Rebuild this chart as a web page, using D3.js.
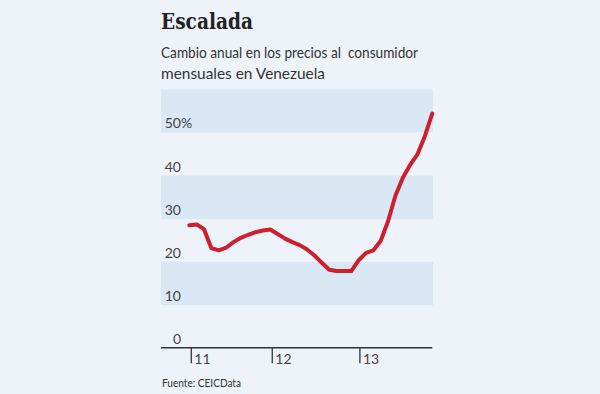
<!DOCTYPE html>
<html><head><meta charset="utf-8">
<script src="https://cdn.jsdelivr.net/npm/d3@7"></script>
<style>
html,body{margin:0;padding:0;background:#eef3fa;}
svg{display:block;}
</style></head>
<body>
<svg id="c" width="600" height="394"></svg>
<script>
// Data: monthly annual CPI change, Jan 2011 .. Oct 2013 (month index 0..33)
const months = d3.range(34);
const values = [28.5,28.7,27.6,23.2,22.7,23.3,24.6,25.6,26.3,26.9,27.3,27.5,
  26.5,25.4,24.6,23.9,22.9,21.5,19.8,18.2,17.9,17.9,17.9,20.4,
  22.1,22.7,24.9,29.5,35.4,39.5,42.5,45.0,49.2,54.4];
const yTicks = [0,10,20,30,40,50];
const yTickLabels = ["0","10","20","30","40","50"];
const bands = [[10,20],[30,40],[50,60]];
const xTicks = [0.2,11.2,23.1];
const xTickLabels = ["11","12","13"];
const title = "Escalada";
const subtitle = ["Cambio anual en los precios al\u00a0 consumidor","mensuales en Venezuela"];
const source = "Fuente: CEICData";

const svg = d3.select("#c");
const left = 161, right = 433;
const x = d3.scaleLinear().domain([0,33]).range([189.3,432.3]);
const y = d3.scaleLinear().domain([0,60]).range([348.3,89.3]);

svg.append("rect").attr("width",600).attr("height",394).attr("fill","#eef3fa");

// bands
svg.selectAll("rect.band").data(bands).enter().append("rect")
  .attr("class","band")
  .attr("x",left).attr("width",right-left)
  .attr("y",d=>y(d[1])).attr("height",d=>y(d[0])-y(d[1]))
  .attr("fill","#dae7f4");

// title
svg.append("text").attr("x",161).attr("y",29)
  .attr("font-family","'DejaVu Serif', serif").attr("font-weight","bold")
  .attr("font-size",22).attr("fill","#222")
  .attr("textLength",92).attr("lengthAdjust","spacingAndGlyphs")
  .text(title);

svg.selectAll("text.sub").data(subtitle).enter().append("text")
  .attr("class","sub")
  .attr("x",161).attr("y",(d,i)=>58+i*21)
  .attr("font-family","Lato, 'Noto Sans', sans-serif")
  .attr("font-size",15).attr("fill","#333")
  .attr("textLength",(d,i)=>i===0?257:164).attr("lengthAdjust","spacingAndGlyphs")
  .text(d=>d);

// y labels
const yl = svg.append("g").attr("font-family","Lato, 'Noto Sans', sans-serif")
  .attr("font-size",14).attr("fill","#444");
yl.selectAll("text").data(yTicks).enter().append("text")
  .attr("x",181).attr("y",d=>y(d)-4).attr("text-anchor","end")
  .text((d,i)=>yTickLabels[i]);
yl.append("text").attr("x",181).attr("y",y(50)-4).text("%");

// x axis
const xAxis = d3.axisBottom(x).tickValues(xTicks).tickSize(15.5)
  .tickFormat((d,i)=>xTickLabels[i]);
const gx = svg.append("g").attr("transform",`translate(0,${y(0)-0.6})`).call(xAxis);
gx.select(".domain").remove();
gx.selectAll(".tick line").attr("stroke","#333").attr("stroke-width",1.3);
gx.selectAll(".tick text").attr("text-anchor","start").attr("x",3).attr("y",6)
  .attr("dy","0.71em")
  .attr("font-family","Lato, 'Noto Sans', sans-serif").attr("font-size",14).attr("fill","#444");
svg.append("line").attr("x1",left).attr("x2",432.3).attr("y1",y(0)-0.6).attr("y2",y(0)-0.6)
  .attr("stroke","#333").attr("stroke-width",1.5);

// line
const line = d3.line().x((d,i)=>x(months[i])).y(d=>y(d));
svg.append("path").datum(values).attr("d",line)
  .attr("fill","none").attr("stroke","#cc1f2f").attr("stroke-width",4)
  .attr("stroke-linejoin","round").attr("stroke-linecap","round");

// source
svg.append("text").attr("x",162).attr("y",387)
  .attr("font-family","Lato, 'Noto Sans', sans-serif").attr("font-size",12).attr("fill","#333")
  .attr("textLength",79).attr("lengthAdjust","spacingAndGlyphs")
  .text(source);
</script>
</body></html>
